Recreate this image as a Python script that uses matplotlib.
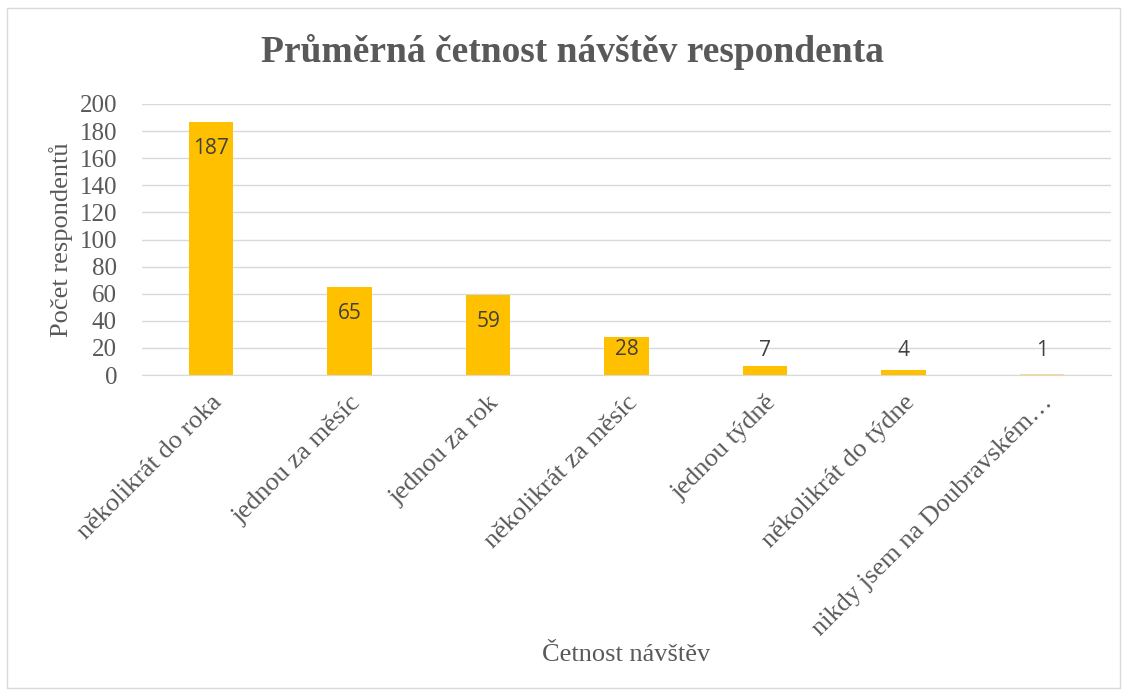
import matplotlib
matplotlib.use("Agg")
import matplotlib.pyplot as plt
from matplotlib.patches import Rectangle

categories = ["několikrát do roka", "jednou za měsíc", "jednou za rok", "několikrát za měsíc",
              "jednou týdně", "několikrát do týdne", "nikdy jsem na Doubravském…"]
values = [187, 65, 59, 28, 7, 4, 1]
colors = ["#FFC000"] * 6 + ["#F7D98B"]

W, H = 1130, 693
fig = plt.figure(figsize=(W / 100, H / 100), dpi=100)
fig.patches.append(Rectangle((7 / W, 5 / H), 1113 / W, 680 / H, transform=fig.transFigure,
                             fill=False, edgecolor="#D9D9D9", linewidth=1))
ax = fig.add_axes([142 / W, 1 - 375 / H, (1111 - 142) / W, (375 - 104) / H])

x = range(len(categories))
ax.bar(x, values, width=0.32, color=colors, zorder=3)
ax.set_xlim(-0.5, len(categories) - 0.5)
ax.set_ylim(0, 200)
ax.grid(axis="y", color="#D9D9D9", linewidth=1, zorder=0)
for s in ["top", "right", "left"]:
    ax.spines[s].set_visible(False)
ax.spines["bottom"].set_color("#D9D9D9")
ax.tick_params(axis="both", length=0, colors="#595959")
serif = "Liberation Serif"
ax.set_yticks(range(0, 201, 20))
ax.set_yticklabels([str(v) for v in range(0, 201, 20)], fontfamily=serif, fontsize=18, color="#595959")
ax.set_xticks(list(x))
ax.set_xticklabels(categories, rotation=45, ha="right", rotation_mode="anchor",
                   fontfamily=serif, fontsize=19, color="#595959")
ax.tick_params(axis="x", pad=12)
ax.tick_params(axis="y", pad=18)

px_per_unit = (375 - 104) / 200
for i, v in enumerate(values):
    hpx = v * px_per_unit
    if v > 20:
        off = -min(27, hpx / 3)
        ax.annotate(str(v), xy=(i, v), xytext=(0, off * 0.72), textcoords="offset points",
                    ha="center", va="center", fontsize=15, color="#404040", fontfamily="Open Sans")
    else:
        ax.annotate(str(v), xy=(i, 0), xytext=(0, 25 * 0.72), textcoords="offset points",
                    ha="center", va="center", fontsize=15, color="#404040", fontfamily="Open Sans")

ax.set_ylabel("Počet respondentů", fontfamily=serif, fontsize=19, color="#595959", labelpad=5)
fig.text(626 / W, 1 - 655 / H, "Četnost návštěv", ha="center", va="center",
         fontfamily=serif, fontsize=19, color="#595959")
fig.text(572 / W, 1 - 52 / H, "Průměrná četnost návštěv respondenta", ha="center",
         va="center", fontfamily=serif, fontsize=27, fontweight="bold", color="#595959")

fig.savefig("out.png", dpi=100)
